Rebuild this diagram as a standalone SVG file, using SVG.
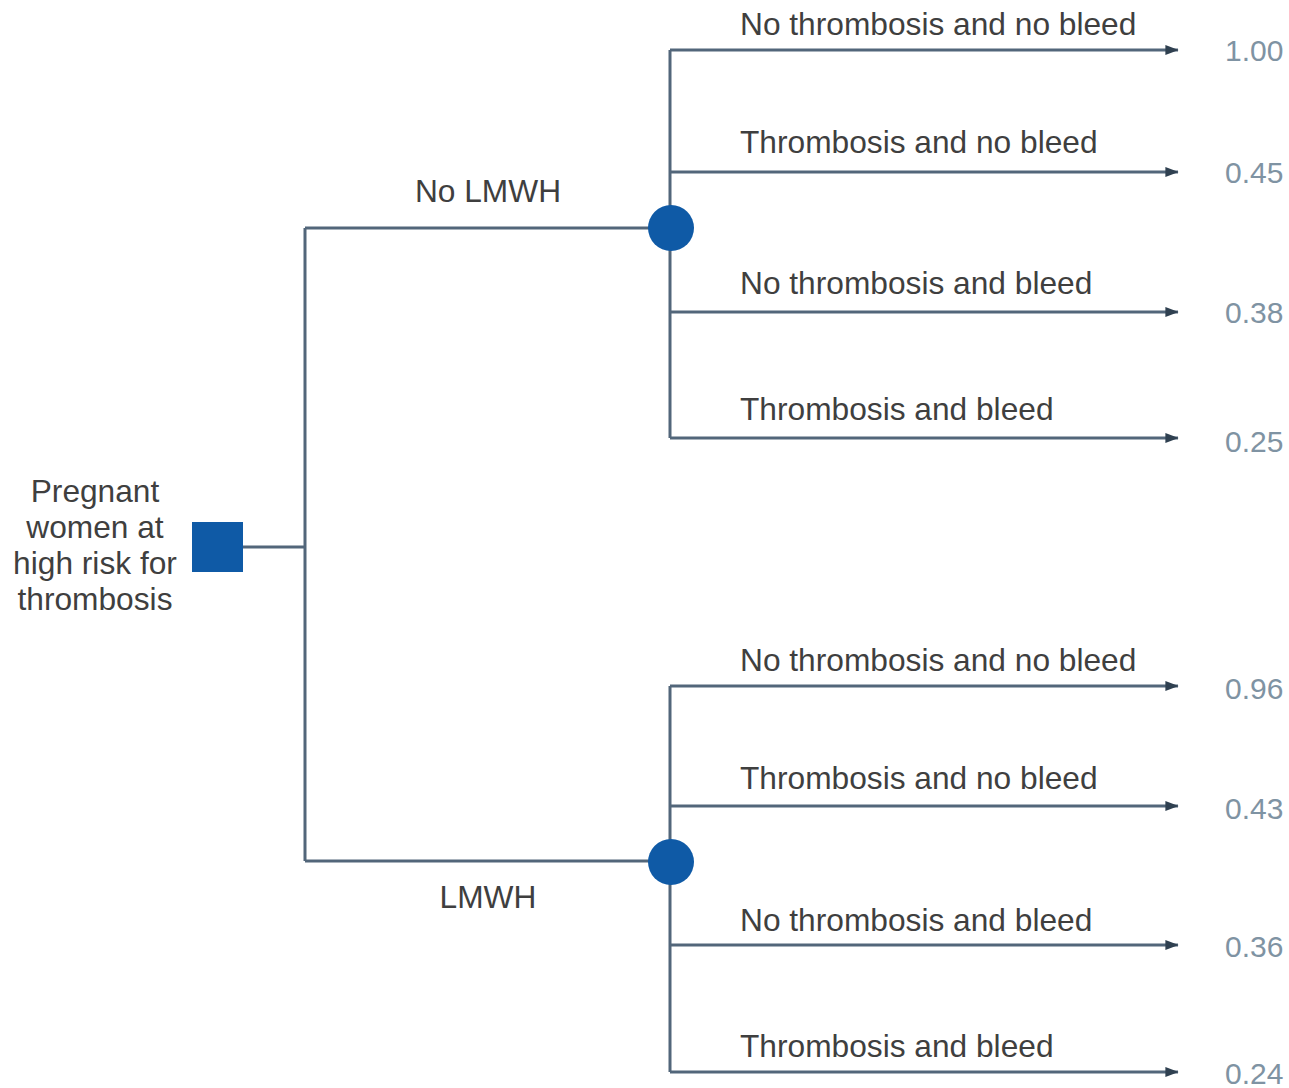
<svg xmlns="http://www.w3.org/2000/svg" width="1289" height="1088" viewBox="0 0 1289 1088">
<defs>
<style>
.ln{stroke:#52667a;stroke-width:3;fill:none}
.lbl{font-family:"Liberation Sans",Arial,sans-serif;font-size:31.7px;fill:#3f3f3f}
.val{font-family:"Liberation Sans",Arial,sans-serif;font-size:30px;fill:#7f93a3}
.node{fill:#0f5aa6}
</style>
<marker id="arr" markerWidth="6" markerHeight="6" refX="4.2" refY="3" orient="auto" markerUnits="strokeWidth">
<path d="M0,1.3 L4.4,3 L0,4.7 Z" fill="#2f4050"/>
</marker>
</defs>
<rect width="1289" height="1088" fill="#ffffff"/>
<g id="connectors">
<path class="ln" d="M243,547 H305"/>
<path class="ln" d="M305,228 V861"/>
<path class="ln" d="M305,228 H670"/>
<path class="ln" d="M305,861 H670"/>
<path class="ln" d="M670,50 V438"/>
<path class="ln" d="M670,686 V1072"/>
<path class="ln" d="M670,50 H1178" marker-end="url(#arr)"/>
<path class="ln" d="M670,172 H1178" marker-end="url(#arr)"/>
<path class="ln" d="M670,312 H1178" marker-end="url(#arr)"/>
<path class="ln" d="M670,438 H1178" marker-end="url(#arr)"/>
<path class="ln" d="M670,686 H1178" marker-end="url(#arr)"/>
<path class="ln" d="M670,806 H1178" marker-end="url(#arr)"/>
<path class="ln" d="M670,945 H1178" marker-end="url(#arr)"/>
<path class="ln" d="M670,1072 H1178" marker-end="url(#arr)"/>
<text class="lbl" x="488" y="202" text-anchor="middle">No LMWH</text>
<text class="lbl" x="488" y="908" text-anchor="middle">LMWH</text>
<text class="lbl" x="740" y="35">No thrombosis and no bleed</text>
<text class="lbl" x="740" y="153">Thrombosis and no bleed</text>
<text class="lbl" x="740" y="294">No thrombosis and bleed</text>
<text class="lbl" x="740" y="420">Thrombosis and bleed</text>
<text class="lbl" x="740" y="671">No thrombosis and no bleed</text>
<text class="lbl" x="740" y="789">Thrombosis and no bleed</text>
<text class="lbl" x="740" y="931">No thrombosis and bleed</text>
<text class="lbl" x="740" y="1057">Thrombosis and bleed</text>
</g>
<g id="root">
<rect class="node" x="192" y="522" width="51" height="50"/>
<text class="lbl" x="95" y="502" text-anchor="middle">Pregnant</text>
<text class="lbl" x="95" y="538" text-anchor="middle">women at</text>
<text class="lbl" x="95" y="574" text-anchor="middle">high risk for</text>
<text class="lbl" x="95" y="610" text-anchor="middle">thrombosis</text>
</g>
<g id="chance-no-lmwh"><circle class="node" cx="671" cy="228" r="23"/></g>
<g id="chance-lmwh"><circle class="node" cx="671" cy="862" r="23"/></g>
<g id="outcome-1"><text class="val" x="1225" y="61">1.00</text></g>
<g id="outcome-2"><text class="val" x="1225" y="183">0.45</text></g>
<g id="outcome-3"><text class="val" x="1225" y="323">0.38</text></g>
<g id="outcome-4"><text class="val" x="1225" y="452">0.25</text></g>
<g id="outcome-5"><text class="val" x="1225" y="699">0.96</text></g>
<g id="outcome-6"><text class="val" x="1225" y="819">0.43</text></g>
<g id="outcome-7"><text class="val" x="1225" y="957">0.36</text></g>
<g id="outcome-8"><text class="val" x="1225" y="1084">0.24</text></g>
</svg>
